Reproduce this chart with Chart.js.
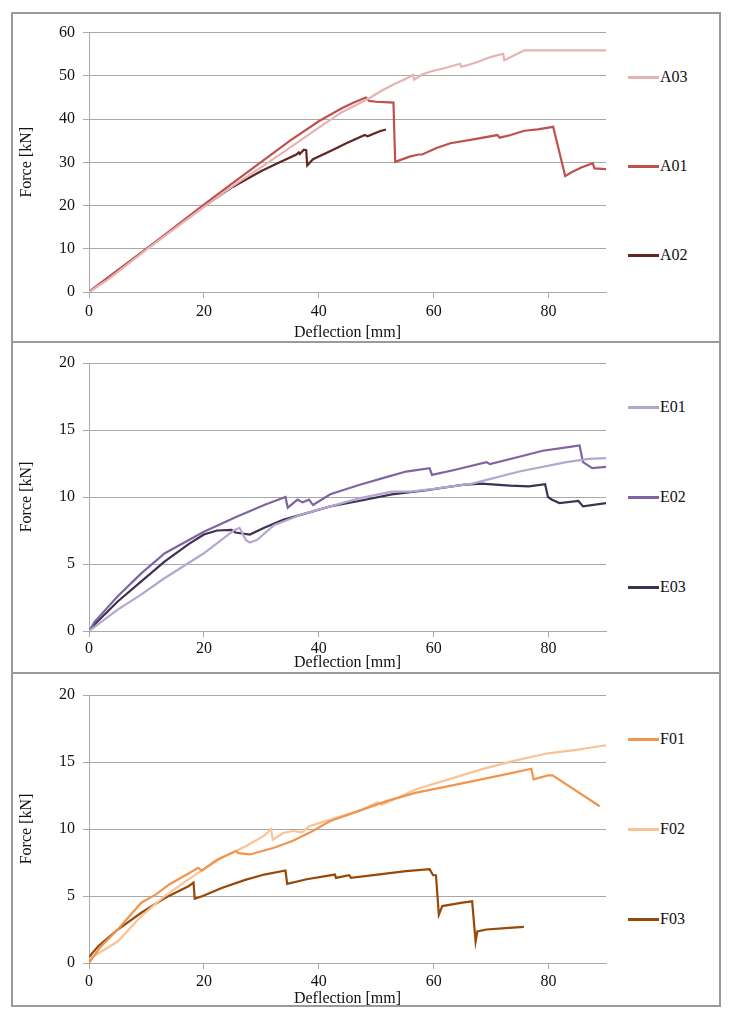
<!DOCTYPE html>
<html>
<head>
<meta charset="utf-8">
<script src="https://cdn.jsdelivr.net/npm/chart.js@4/dist/chart.umd.min.js"></script>
<style>
  body { margin: 0; background: #fff; width: 733px; height: 1018px; position: relative; overflow: hidden; }
  .panel { position: absolute; left: 11px; width: 706px; border: 2px solid #9a9a9a; }
  .wrap { position: absolute; }
  .leg { position: absolute; left: 628px; height: 20px; font-family: "Liberation Serif", serif; font-size: 16px; color: #111; }
  .leg span.ln { position: absolute; left: 0; top: 9px; width: 31px; height: 2.5px; }
  .leg span.tx { position: absolute; left: 32px; top: 0; line-height: 20px; }
</style>
</head>
<body>
<div class="panel" style="top:12px;height:327px"></div>
<div class="panel" style="top:341px;height:329px"></div>
<div class="panel" style="top:672px;height:331px"></div>

<div class="wrap" style="left:14px;top:15px;width:600px;height:327px"><canvas id="chartA"></canvas></div>
<div class="wrap" style="left:14px;top:345px;width:600px;height:327px"><canvas id="chartE"></canvas></div>
<div class="wrap" style="left:14px;top:677px;width:600px;height:331px"><canvas id="chartF"></canvas></div>

<div id="legends"></div>

<script>
// deflection [mm], force [kN]
const A03 = [[0,0],[3,2.6],[10,9.8],[20,19.7],[25,24.5],[30,28.9],[33,31.6],[36,34.3],[40,38],[44,41.6],[47,43.6],[49,45],[51,46.6],[53,48],[55,49.2],[56.4,50.2],[56.6,49.1],[58,50.3],[59.5,51],[62,51.8],[64.6,52.8],[64.8,52.1],[66,52.5],[67.6,53.2],[70,54.4],[72.1,55.1],[72.3,53.6],[73.5,54.4],[75.8,55.9],[90,55.9]];
const A01 = [[0,0],[5,5],[10,10],[20,20.2],[25,25.2],[30,30.1],[35,35],[40,39.5],[44,42.5],[46,43.8],[48.2,45],[48.8,44.2],[50,44],[53,43.8],[53.3,30.1],[55.8,31.3],[57.4,31.8],[58,31.8],[60.5,33.3],[62.9,34.4],[66.4,35.2],[71.1,36.3],[71.5,35.7],[73.4,36.3],[75.8,37.3],[78.1,37.6],[80.8,38.2],[82.9,26.8],[84,27.7],[85.7,28.8],[87.7,29.8],[88,28.6],[90,28.4]];
const A02 = [[0,0],[10,10],[20,19.8],[25,24.3],[30,28],[33.2,30],[36.1,31.8],[36.5,32.3],[36.7,31.9],[37.4,32.9],[37.8,32.8],[38,29.3],[39,30.7],[42.5,32.9],[44.8,34.4],[48,36.3],[48.5,36],[50.6,37.2],[51.7,37.6]];

const E01 = [[0,0],[5,1.6],[9,2.7],[13,3.9],[20,5.8],[25.2,7.5],[26.2,7.7],[27.3,6.8],[28,6.6],[29.3,6.8],[32.2,7.9],[37,8.7],[42,9.3],[47,9.9],[52.7,10.4],[56,10.4],[60,10.6],[66.7,11],[74.9,11.9],[83.1,12.6],[87,12.85],[90,12.9]];
const E02 = [[0,0],[1,0.7],[5,2.6],[9.1,4.3],[13.2,5.8],[20,7.4],[25.6,8.5],[30.5,9.4],[34.2,10],[34.6,9.2],[36.3,9.8],[37.2,9.6],[38.3,9.8],[39,9.4],[42,10.2],[47,10.9],[51.9,11.5],[55.2,11.9],[59.3,12.15],[59.7,11.65],[63.4,12],[69.2,12.6],[69.8,12.45],[74.9,13],[79,13.45],[83.1,13.7],[85.4,13.85],[86,12.6],[87.6,12.15],[90,12.25]];
const E03 = [[0,0],[1,0.5],[5,2.2],[9.1,3.7],[13.2,5.2],[17.4,6.5],[20,7.2],[22.3,7.5],[24.8,7.55],[25.5,7.35],[28,7.2],[30.5,7.7],[33.8,8.3],[37.9,8.8],[42,9.3],[47,9.7],[52.7,10.2],[58.5,10.5],[65,10.9],[68.3,11],[73.3,10.85],[76.6,10.8],[79.4,10.95],[79.9,10],[80.6,9.8],[81.9,9.55],[85.2,9.7],[86,9.3],[90,9.55]];

const F01 = [[0,0],[2,1.2],[5,2.5],[9.1,4.5],[11.6,5.1],[14.1,5.9],[17.4,6.7],[19,7.1],[19.6,6.9],[22.3,7.7],[25.6,8.35],[26,8.2],[28,8.1],[32.2,8.6],[35.4,9.1],[38.7,9.8],[42,10.6],[47,11.35],[51.9,12.1],[56.8,12.7],[62.6,13.2],[68.3,13.7],[73.3,14.15],[77,14.5],[77.4,13.7],[79.9,14],[80.7,14],[88.9,11.7]];
const F02 = [[0,0.3],[5,1.6],[9.1,3.5],[13.2,5],[16.5,6],[20,7],[23.1,7.85],[27.2,8.7],[30.5,9.5],[31.7,10],[32,9.2],[33.8,9.7],[35.5,9.85],[37.1,9.75],[38.3,10.2],[42,10.7],[47,11.35],[50.2,12],[51,11.8],[56.8,12.95],[62.6,13.7],[68.3,14.45],[74.1,15.1],[79.9,15.65],[84.8,15.9],[90,16.25]];
const F03 = [[0,0],[0.3,0.6],[1.6,1.25],[5,2.5],[9.1,3.75],[13.2,4.85],[17.4,5.75],[18.2,6],[18.4,4.8],[19.8,5],[23.1,5.6],[27.2,6.2],[30.5,6.6],[34.2,6.9],[34.5,5.9],[37.9,6.25],[42.8,6.6],[43,6.35],[45.3,6.55],[45.6,6.35],[50.2,6.6],[55.2,6.85],[59.3,7],[59.9,6.55],[60.4,6.55],[60.9,3.6],[61.5,4.25],[65,4.5],[66.7,4.6],[67.3,1.6],[67.6,2.35],[69.2,2.5],[72.5,2.6],[75.7,2.7]];

const xTicks = [0, 20, 40, 60, 80];
const xTitle = "Deflection [mm]";
const yTitle = "Force [kN]";

const FONT = "'Liberation Serif', 'Times New Roman', serif";
const GRID = "#a8a8a8";

function toPoints(arr) {
  return arr.map(p => ({ x: p[0], y: p[1] }));
}

function makeChart(id, series, yMax, yStep, opts) {
  const ctx = document.getElementById(id);
  return new Chart(ctx, {
    type: "line",
    data: {
      datasets: series.map(s => ({
        label: s.name,
        data: toPoints(s.data),
        borderColor: s.color,
        borderWidth: 2.2,
        pointRadius: 0,
        tension: 0,
        fill: false,
      })),
    },
    options: {
      responsive: true,
      maintainAspectRatio: false,
      animation: false,
      events: [],
      layout: { padding: { top: opts.padTop, right: 8, left: 0, bottom: 0 } },
      plugins: { legend: { display: false }, tooltip: { enabled: false } },
      scales: {
        x: {
          type: "linear",
          min: 0,
          max: 90,
          afterBuildTicks: (axis) => { axis.ticks = xTicks.map(v => ({ value: v })); },
          afterFit: (axis) => { axis.height = opts.xHeight; },
          grid: { drawOnChartArea: false, drawTicks: true, tickLength: 6, color: GRID },
          border: { display: true, color: GRID, width: 1 },
          ticks: { color: "#111", font: { family: FONT, size: 16 }, padding: opts.xPad, maxRotation: 0 },
          title: { display: true, text: xTitle, color: "#111", font: { family: FONT, size: 16 }, padding: { top: 0, bottom: 0 } },
        },
        y: {
          min: 0,
          max: yMax,
          afterFit: (axis) => { axis.width = 75; },
          grid: { drawOnChartArea: true, drawTicks: true, tickLength: 6, color: GRID },
          border: { display: true, color: GRID, width: 1 },
          ticks: { stepSize: yStep, color: "#111", font: { family: FONT, size: 16 }, padding: 8 },
          title: { display: true, text: yTitle, color: "#111", font: { family: FONT, size: 16 }, padding: { top: 3, bottom: 0 } },
        },
      },
    },
  });
}

const seriesA = [
  { name: "A03", data: A03, color: "#e6b3b3", legY: 77 },
  { name: "A01", data: A01, color: "#c0504d", legY: 166 },
  { name: "A02", data: A02, color: "#632523", legY: 255 },
];
const seriesE = [
  { name: "E01", data: E01, color: "#b4a7cf", legY: 407 },
  { name: "E02", data: E02, color: "#8064a2", legY: 497 },
  { name: "E03", data: E03, color: "#3f3151", legY: 587 },
];
const seriesF = [
  { name: "F01", data: F01, color: "#f0954f", legY: 739 },
  { name: "F02", data: F02, color: "#fac394", legY: 829 },
  { name: "F03", data: F03, color: "#984807", legY: 919 },
];

makeChart("chartA", seriesA, 60, 10, { padTop: 12, xHeight: 50, xPad: 4 });
makeChart("chartE", seriesE, 20, 5, { padTop: 18, xHeight: 41, xPad: 2 });
makeChart("chartF", seriesF, 20, 5, { padTop: 18, xHeight: 45, xPad: 3 });

// legends on the right of each panel
const legBox = document.getElementById("legends");
[seriesA, seriesE, seriesF].forEach(group => {
  group.forEach(s => {
    const item = document.createElement("div");
    item.className = "leg";
    item.style.top = (s.legY - 10) + "px";

    const ln = document.createElement("span");
    ln.className = "ln";
    ln.style.background = s.color;
    item.appendChild(ln);

    const tx = document.createElement("span");
    tx.className = "tx";
    tx.textContent = s.name;
    item.appendChild(tx);

    legBox.appendChild(item);
  });
});
</script>
</body>
</html>
